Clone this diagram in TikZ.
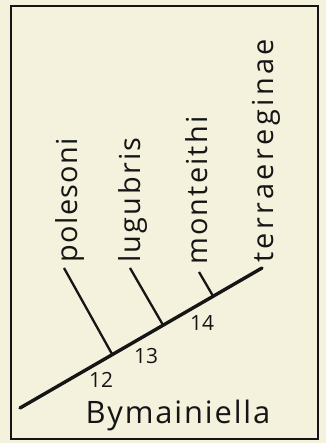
\documentclass[tikz,border=0pt]{standalone}
\usepackage{fontspec}
\setmainfont{Open Sans}
\newfontfamily\lsA[LetterSpace=5]{Open Sans}
\newfontfamily\lsB[LetterSpace=8]{Open Sans}
\newfontfamily\lsC[LetterSpace=7.5]{Open Sans}
\newfontfamily\lsD[LetterSpace=12]{Open Sans}
\newfontfamily\lsE[LetterSpace=6]{Open Sans}
\definecolor{paper}{HTML}{F4F1DD}
\definecolor{ink}{HTML}{151515}
\begin{document}
\begin{tikzpicture}[x=1bp,y=-1bp,
  lbl/.style={rotate=90,anchor=base west,inner sep=0pt,text=ink},
  lblsize/.style={font=#1\fontsize{29}{32}\selectfont},
  num/.style={anchor=base,inner sep=0pt,font=\fontsize{21}{24}\selectfont,text=ink},
  branch/.style={draw=ink,line width=2.3bp},
  stem/.style={draw=ink,line width=3.4bp,line cap=round}]
\fill[paper] (0,0) rectangle (326,443);
\useasboundingbox (0,0) rectangle (326,443);
\draw[ink,line width=2bp] (11,6) rectangle (318,439);
% labels
\node[lbl,lblsize=\lsA] (pol) at (77,263) {polesoni};
\node[lbl,lblsize=\lsB] (lug) at (140,263) {lugubris};
\node[lbl,lblsize=\lsC] (mon) at (207,265) {monteithi};
\node[lbl,lblsize=\lsD] (ter) at (273,263) {terraereginae};
% tree
\coordinate (root) at (20,408);
\coordinate (tip) at (262,268);
\coordinate (j1) at (112,354);
\coordinate (j2) at (163,325);
\coordinate (j3) at (213,296);
\coordinate (t1) at (64,268);
\coordinate (t2) at (130,268);
\coordinate (t3) at (199,272);
\draw[stem] (root) -- (tip);
\draw[branch] (t1) -- (j1);
\draw[branch] (t2) -- (j2);
\draw[branch] (t3) -- (j3);
% numbers
\node[num] (n12) at (101,387) {12};
\node[num] (n13) at (146,363) {13};
\node[num] (n14) at (202,330) {14};
\node[anchor=base,inner sep=0pt,font=\lsE\fontsize{31}{34}\selectfont,text=ink] (genus) at (178,423) {Bymainiella};
\end{tikzpicture}
\end{document}
